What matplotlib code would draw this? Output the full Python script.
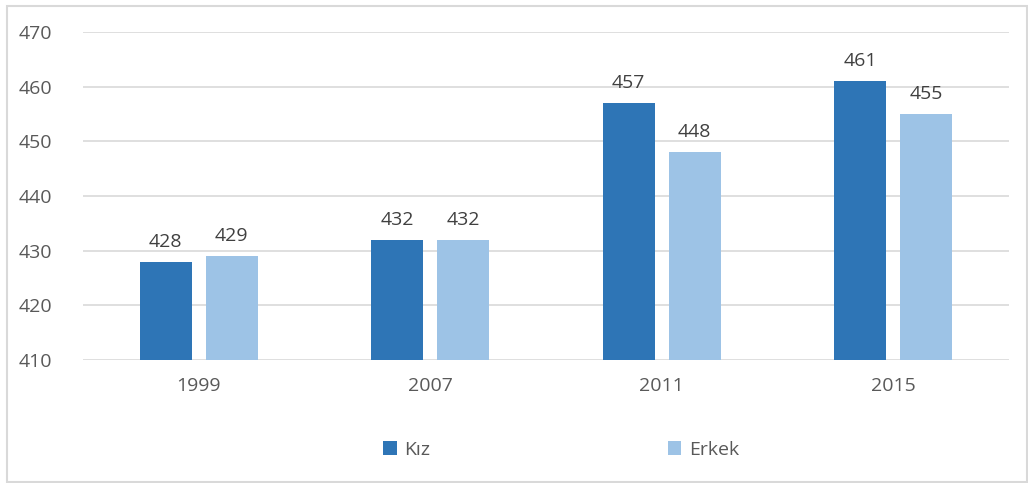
import numpy as np
import matplotlib
matplotlib.use("Agg")
import matplotlib.pyplot as plt
from matplotlib.patches import Rectangle

# Data
years = ["1999", "2007", "2011", "2015"]
kiz = [428, 432, 457, 461]
erkek = [429, 432, 448, 455]

dark = "#2E75B6"
light = "#9DC3E6"
text_gray = "#595959"

plt.rcParams["font.family"] = ["Open Sans", "DejaVu Sans"]

fig = plt.figure(figsize=(10.28, 4.83), dpi=100)
ax = fig.add_axes([83 / 1028, 123 / 483, 926 / 1028, 328 / 483])

x = np.arange(len(years))
w = 0.225
off = 0.1425
b1 = ax.bar(x - off, np.array(kiz) - 410, w, bottom=410, color=dark, label="Kız", zorder=3)
b2 = ax.bar(x + off, np.array(erkek) - 410, w, bottom=410, color=light, label="Erkek", zorder=3)

for bars, vals in ((b1, kiz), (b2, erkek)):
    for r, v in zip(bars, vals):
        ax.text(r.get_x() + r.get_width() / 2, v + 2.0, str(v), ha="center", va="bottom",
                fontsize=14, color="#404040")

ax.set_xlim(-0.5, 3.5)
ax.set_ylim(410, 470)
ax.set_yticks(range(410, 471, 10))
ax.set_xticks(x)
ax.set_xticklabels(years)
ax.grid(axis="y", color="#D9D9D9", linewidth=1.2, zorder=0)
for s in ax.spines.values():
    s.set_visible(False)
ax.tick_params(length=0, labelsize=14, labelcolor=text_gray)
ax.tick_params(axis="y", pad=22)
ax.tick_params(axis="x", pad=12)

leg = fig.legend(handles=[b1, b2], loc="center", bbox_to_anchor=(561 / 1028, 1 - 450 / 483),
                 ncol=2, frameon=False, fontsize=14, handlelength=0.7, handleheight=0.7,
                 handletextpad=0.4, columnspacing=12.2)
for t in leg.get_texts():
    t.set_color(text_gray)

# outer chart border
fig.patches.append(Rectangle((7 / 1028, 0.002), 1 - 8 / 1028, 1 - 7 / 483, transform=fig.transFigure,
                             fill=False, edgecolor="#D9D9D9", linewidth=1.5))

fig.savefig("out.png", dpi=100)
